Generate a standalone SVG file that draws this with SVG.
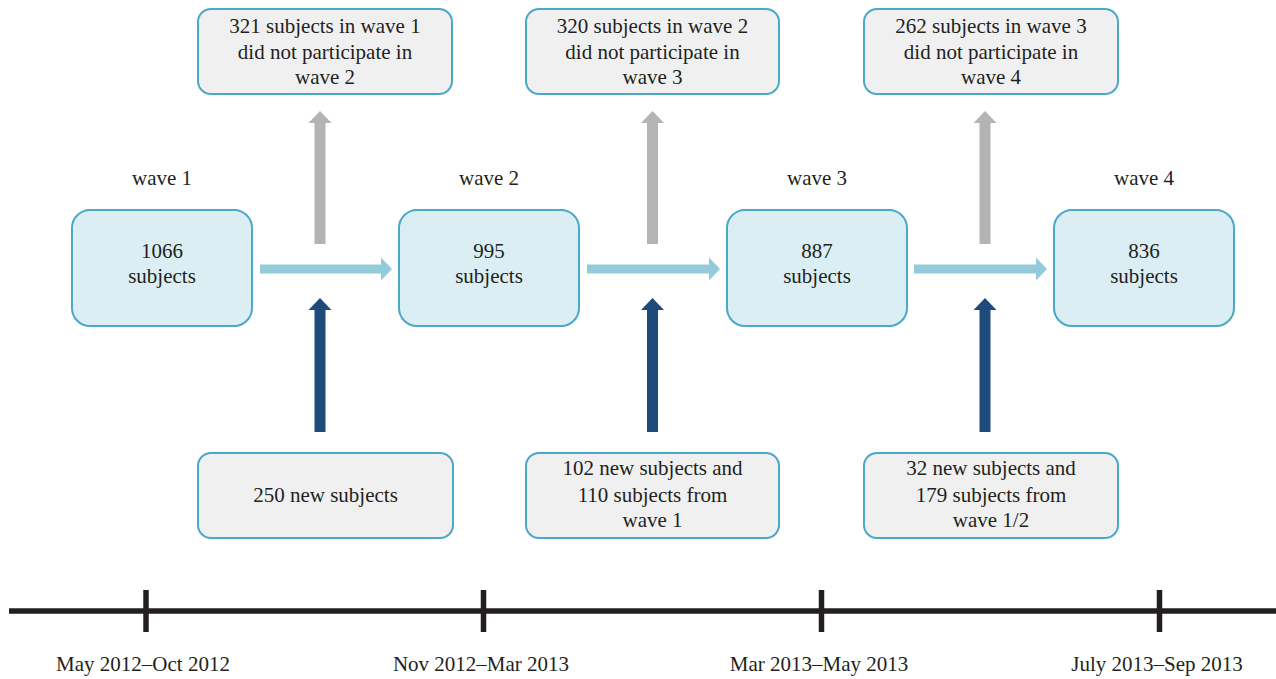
<svg xmlns="http://www.w3.org/2000/svg" width="1276" height="679" viewBox="0 0 1276 679">
<style>
text{font-family:"Liberation Serif","Times New Roman",serif;font-size:21px;fill:#231f20;text-anchor:middle}
.wave{fill:#dbeef4;stroke:#4aa8c8;stroke-width:2}
.note{fill:#f0f0f0;stroke:#4aa8c8;stroke-width:2}
.gray{fill:#b3b4b6}
.navy{fill:#1f4a7c}
.flow{fill:#93cbdb}
.axis{stroke:#231f20;stroke-width:5.5;fill:none}
</style>
<rect width="1276" height="679" fill="#ffffff"/>

<g id="wave1">
<text x="162" y="185">wave 1</text>
<rect class="wave" x="72" y="210" width="180" height="116" rx="18"/>
<text x="162" y="258">1066</text>
<text x="162" y="283">subjects</text>
</g>
<g id="wave2">
<text x="489" y="185">wave 2</text>
<rect class="wave" x="399" y="210" width="180" height="116" rx="18"/>
<text x="489" y="258">995</text>
<text x="489" y="283">subjects</text>
</g>
<g id="wave3">
<text x="817" y="185">wave 3</text>
<rect class="wave" x="727" y="210" width="180" height="116" rx="18"/>
<text x="817" y="258">887</text>
<text x="817" y="283">subjects</text>
</g>
<g id="wave4">
<text x="1144" y="185">wave 4</text>
<rect class="wave" x="1054" y="210" width="180" height="116" rx="18"/>
<text x="1144" y="258">836</text>
<text x="1144" y="283">subjects</text>
</g>

<g id="dropout1">
<rect class="note" x="198" y="9" width="254" height="85" rx="13"/>
<text x="325" y="33">321 subjects in wave 1</text>
<text x="325" y="59">did not participate in</text>
<text x="325" y="84">wave 2</text>
</g>
<g id="dropout2">
<rect class="note" x="526" y="9" width="253" height="85" rx="13"/>
<text x="652.5" y="33">320 subjects in wave 2</text>
<text x="652.5" y="59">did not participate in</text>
<text x="652.5" y="84">wave 3</text>
</g>
<g id="dropout3">
<rect class="note" x="864" y="9" width="254" height="85" rx="13"/>
<text x="991" y="33">262 subjects in wave 3</text>
<text x="991" y="59">did not participate in</text>
<text x="991" y="84">wave 4</text>
</g>

<g id="new1">
<rect class="note" x="198" y="453" width="255" height="85" rx="13"/>
<text x="325.5" y="502">250 new subjects</text>
</g>
<g id="new2">
<rect class="note" x="526" y="453" width="253" height="85" rx="13"/>
<text x="652.5" y="475">102 new subjects and</text>
<text x="652.5" y="502">110 subjects from</text>
<text x="652.5" y="527">wave 1</text>
</g>
<g id="new3">
<rect class="note" x="864" y="453" width="254" height="85" rx="13"/>
<text x="991" y="475">32 new subjects and</text>
<text x="991" y="502">179 subjects from</text>
<text x="991" y="527">wave 1/2</text>
</g>

<g id="connectors">
<path class="gray" d="M314.5,244 V123 H308.5 L320,111 L331.5,123 H325.5 V244 Z"/>
<path class="gray" d="M647,244 V123 H641 L652.5,111 L664,123 H658 V244 Z"/>
<path class="gray" d="M979.5,244 V123 H973.5 L985,111 L996.5,123 H990.5 V244 Z"/>
<path class="navy" d="M314.5,432 V310 H308.5 L320,298 L331.5,310 H325.5 V432 Z"/>
<path class="navy" d="M647,432 V310 H641 L652.5,298 L664,310 H658 V432 Z"/>
<path class="navy" d="M979.5,432 V310 H973.5 L985,298 L996.5,310 H990.5 V432 Z"/>
<path class="flow" d="M260,264.5 H381 V257.5 L392,269 L381,280.5 V273.5 H260 Z"/>
<path class="flow" d="M587,264.5 H709 V257.5 L720,269 L709,280.5 V273.5 H587 Z"/>
<path class="flow" d="M914,264.5 H1036 V257.5 L1047,269 L1036,280.5 V273.5 H914 Z"/>
</g>

<g id="timeline">
<line class="axis" x1="9" y1="611" x2="1276" y2="611"/>
<line class="axis" x1="146" y1="590" x2="146" y2="632" stroke-width="5"/>
<line class="axis" x1="483.5" y1="590" x2="483.5" y2="632" stroke-width="5"/>
<line class="axis" x1="821.5" y1="590" x2="821.5" y2="632" stroke-width="5"/>
<line class="axis" x1="1159.5" y1="590" x2="1159.5" y2="632" stroke-width="5"/>
<text x="143" y="671">May 2012–Oct 2012</text>
<text x="481" y="671">Nov 2012–Mar 2013</text>
<text x="819" y="671">Mar 2013–May 2013</text>
<text x="1157" y="671">July 2013–Sep 2013</text>
</g>
</svg>
